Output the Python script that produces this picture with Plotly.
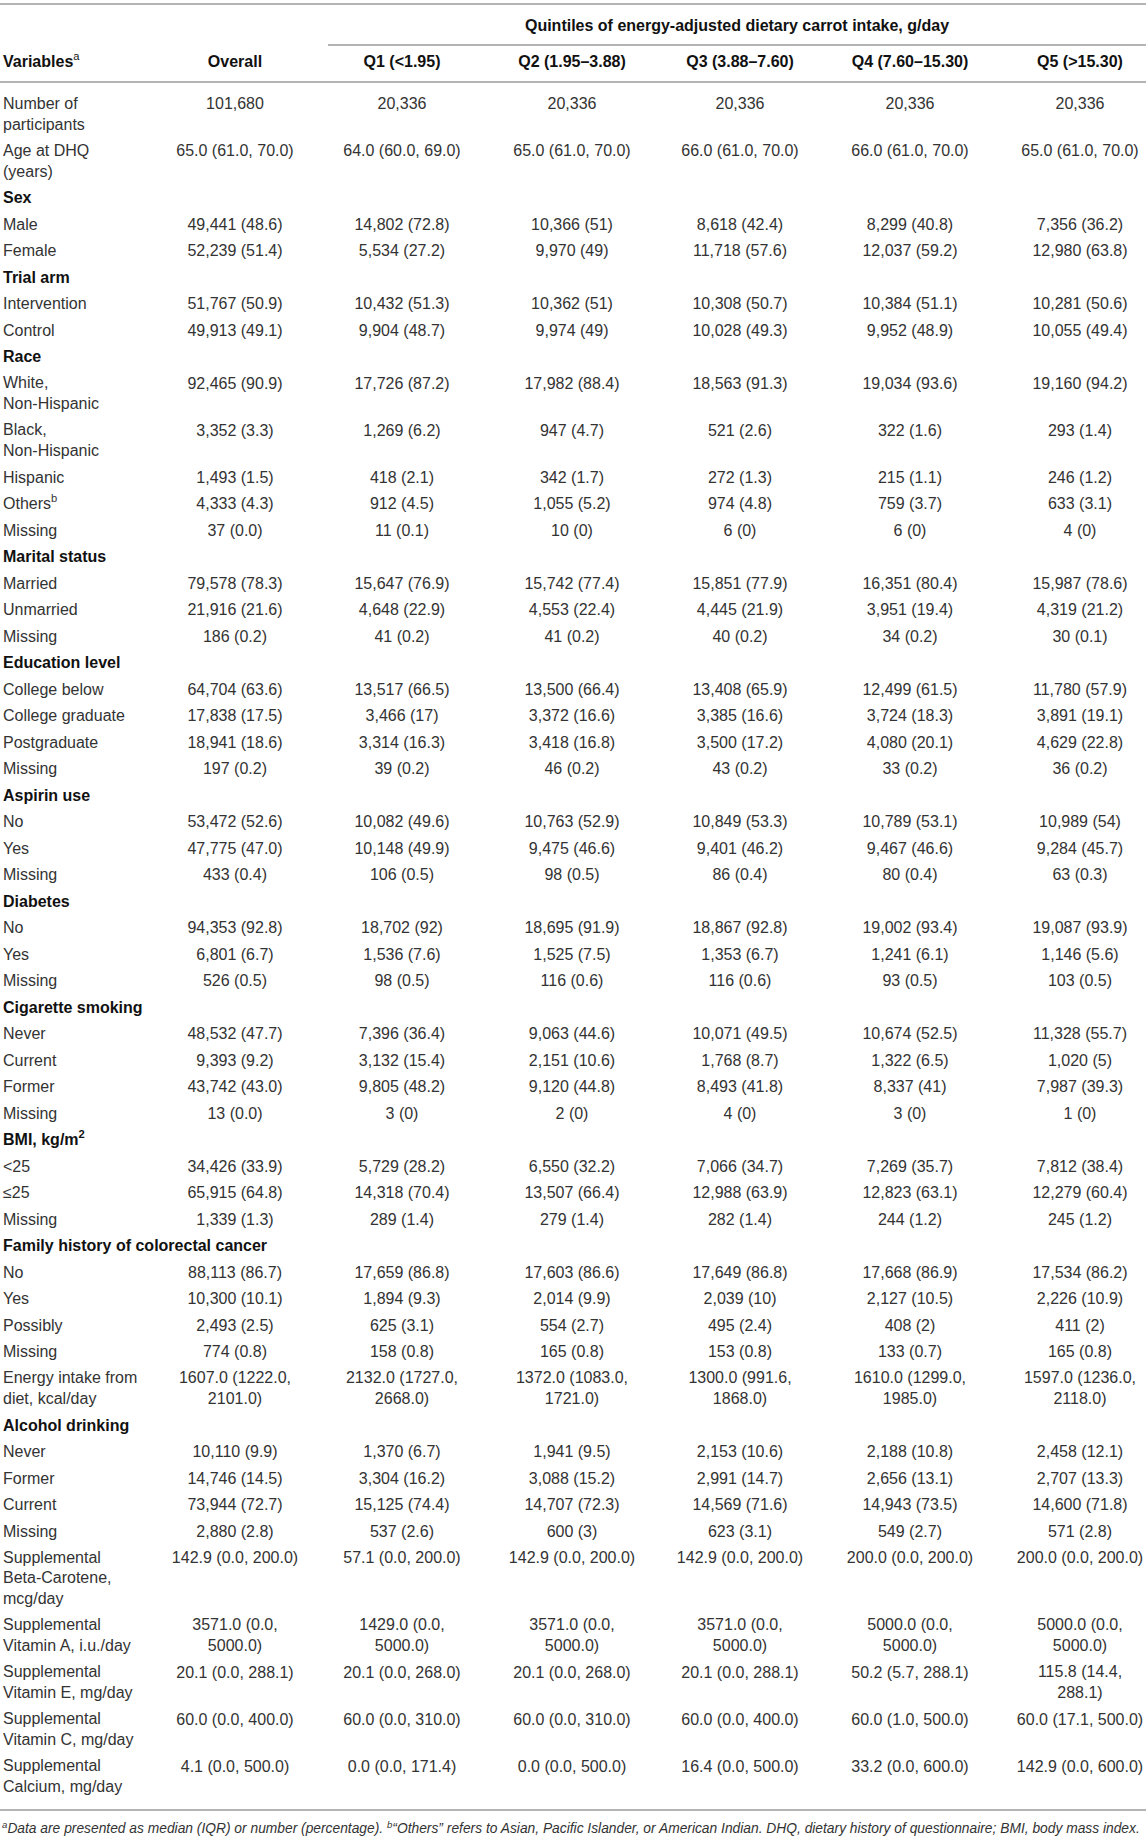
import plotly.graph_objects as go

# table content
variables = [
    "Number of<br>participants", "Age at DHQ<br>(years)",
    "<b>Sex</b>", "Male", "Female",
    "<b>Trial arm</b>", "Intervention", "Control",
    "<b>Race</b>", "White,<br>Non-Hispanic", "Black,<br>Non-Hispanic", "Hispanic",
    "Others<sup>b</sup>", "Missing",
    "<b>Marital status</b>", "Married", "Unmarried", "Missing",
    "<b>Education level</b>", "College below", "College graduate", "Postgraduate", "Missing",
    "<b>Aspirin use</b>", "No", "Yes", "Missing",
    "<b>Diabetes</b>", "No", "Yes", "Missing",
    "<b>Cigarette smoking</b>", "Never", "Current", "Former", "Missing",
    "<b>BMI, kg/m<sup>2</sup></b>", "&lt;25", "≤25", "Missing",
    "<b>Family history of colorectal cancer</b>", "No", "Yes", "Possibly", "Missing",
    "Energy intake from<br>diet, kcal/day",
    "<b>Alcohol drinking</b>", "Never", "Former", "Current", "Missing",
    "Supplemental<br>Beta-Carotene,<br>mcg/day",
    "Supplemental<br>Vitamin A, i.u./day",
    "Supplemental<br>Vitamin E, mg/day",
    "Supplemental<br>Vitamin C, mg/day",
    "Supplemental<br>Calcium, mg/day",
]

overall = [
    "101,680", "65.0 (61.0, 70.0)",
    "", "49,441 (48.6)", "52,239 (51.4)",
    "", "51,767 (50.9)", "49,913 (49.1)",
    "", "92,465 (90.9)", "3,352 (3.3)", "1,493 (1.5)", "4,333 (4.3)", "37 (0.0)",
    "", "79,578 (78.3)", "21,916 (21.6)", "186 (0.2)",
    "", "64,704 (63.6)", "17,838 (17.5)", "18,941 (18.6)", "197 (0.2)",
    "", "53,472 (52.6)", "47,775 (47.0)", "433 (0.4)",
    "", "94,353 (92.8)", "6,801 (6.7)", "526 (0.5)",
    "", "48,532 (47.7)", "9,393 (9.2)", "43,742 (43.0)", "13 (0.0)",
    "", "34,426 (33.9)", "65,915 (64.8)", "1,339 (1.3)",
    "", "88,113 (86.7)", "10,300 (10.1)", "2,493 (2.5)", "774 (0.8)",
    "1607.0 (1222.0,<br>2101.0)",
    "", "10,110 (9.9)", "14,746 (14.5)", "73,944 (72.7)", "2,880 (2.8)",
    "142.9 (0.0, 200.0)", "3571.0 (0.0,<br>5000.0)", "20.1 (0.0, 288.1)",
    "60.0 (0.0, 400.0)", "4.1 (0.0, 500.0)",
]

q1 = [
    "20,336", "64.0 (60.0, 69.0)",
    "", "14,802 (72.8)", "5,534 (27.2)",
    "", "10,432 (51.3)", "9,904 (48.7)",
    "", "17,726 (87.2)", "1,269 (6.2)", "418 (2.1)", "912 (4.5)", "11 (0.1)",
    "", "15,647 (76.9)", "4,648 (22.9)", "41 (0.2)",
    "", "13,517 (66.5)", "3,466 (17)", "3,314 (16.3)", "39 (0.2)",
    "", "10,082 (49.6)", "10,148 (49.9)", "106 (0.5)",
    "", "18,702 (92)", "1,536 (7.6)", "98 (0.5)",
    "", "7,396 (36.4)", "3,132 (15.4)", "9,805 (48.2)", "3 (0)",
    "", "5,729 (28.2)", "14,318 (70.4)", "289 (1.4)",
    "", "17,659 (86.8)", "1,894 (9.3)", "625 (3.1)", "158 (0.8)",
    "2132.0 (1727.0,<br>2668.0)",
    "", "1,370 (6.7)", "3,304 (16.2)", "15,125 (74.4)", "537 (2.6)",
    "57.1 (0.0, 200.0)", "1429.0 (0.0,<br>5000.0)", "20.1 (0.0, 268.0)",
    "60.0 (0.0, 310.0)", "0.0 (0.0, 171.4)",
]

q2 = [
    "20,336", "65.0 (61.0, 70.0)",
    "", "10,366 (51)", "9,970 (49)",
    "", "10,362 (51)", "9,974 (49)",
    "", "17,982 (88.4)", "947 (4.7)", "342 (1.7)", "1,055 (5.2)", "10 (0)",
    "", "15,742 (77.4)", "4,553 (22.4)", "41 (0.2)",
    "", "13,500 (66.4)", "3,372 (16.6)", "3,418 (16.8)", "46 (0.2)",
    "", "10,763 (52.9)", "9,475 (46.6)", "98 (0.5)",
    "", "18,695 (91.9)", "1,525 (7.5)", "116 (0.6)",
    "", "9,063 (44.6)", "2,151 (10.6)", "9,120 (44.8)", "2 (0)",
    "", "6,550 (32.2)", "13,507 (66.4)", "279 (1.4)",
    "", "17,603 (86.6)", "2,014 (9.9)", "554 (2.7)", "165 (0.8)",
    "1372.0 (1083.0,<br>1721.0)",
    "", "1,941 (9.5)", "3,088 (15.2)", "14,707 (72.3)", "600 (3)",
    "142.9 (0.0, 200.0)", "3571.0 (0.0,<br>5000.0)", "20.1 (0.0, 268.0)",
    "60.0 (0.0, 310.0)", "0.0 (0.0, 500.0)",
]

q3 = [
    "20,336", "66.0 (61.0, 70.0)",
    "", "8,618 (42.4)", "11,718 (57.6)",
    "", "10,308 (50.7)", "10,028 (49.3)",
    "", "18,563 (91.3)", "521 (2.6)", "272 (1.3)", "974 (4.8)", "6 (0)",
    "", "15,851 (77.9)", "4,445 (21.9)", "40 (0.2)",
    "", "13,408 (65.9)", "3,385 (16.6)", "3,500 (17.2)", "43 (0.2)",
    "", "10,849 (53.3)", "9,401 (46.2)", "86 (0.4)",
    "", "18,867 (92.8)", "1,353 (6.7)", "116 (0.6)",
    "", "10,071 (49.5)", "1,768 (8.7)", "8,493 (41.8)", "4 (0)",
    "", "7,066 (34.7)", "12,988 (63.9)", "282 (1.4)",
    "", "17,649 (86.8)", "2,039 (10)", "495 (2.4)", "153 (0.8)",
    "1300.0 (991.6,<br>1868.0)",
    "", "2,153 (10.6)", "2,991 (14.7)", "14,569 (71.6)", "623 (3.1)",
    "142.9 (0.0, 200.0)", "3571.0 (0.0,<br>5000.0)", "20.1 (0.0, 288.1)",
    "60.0 (0.0, 400.0)", "16.4 (0.0, 500.0)",
]

q4 = [
    "20,336", "66.0 (61.0, 70.0)",
    "", "8,299 (40.8)", "12,037 (59.2)",
    "", "10,384 (51.1)", "9,952 (48.9)",
    "", "19,034 (93.6)", "322 (1.6)", "215 (1.1)", "759 (3.7)", "6 (0)",
    "", "16,351 (80.4)", "3,951 (19.4)", "34 (0.2)",
    "", "12,499 (61.5)", "3,724 (18.3)", "4,080 (20.1)", "33 (0.2)",
    "", "10,789 (53.1)", "9,467 (46.6)", "80 (0.4)",
    "", "19,002 (93.4)", "1,241 (6.1)", "93 (0.5)",
    "", "10,674 (52.5)", "1,322 (6.5)", "8,337 (41)", "3 (0)",
    "", "7,269 (35.7)", "12,823 (63.1)", "244 (1.2)",
    "", "17,668 (86.9)", "2,127 (10.5)", "408 (2)", "133 (0.7)",
    "1610.0 (1299.0,<br>1985.0)",
    "", "2,188 (10.8)", "2,656 (13.1)", "14,943 (73.5)", "549 (2.7)",
    "200.0 (0.0, 200.0)", "5000.0 (0.0,<br>5000.0)", "50.2 (5.7, 288.1)",
    "60.0 (1.0, 500.0)", "33.2 (0.0, 600.0)",
]

q5 = [
    "20,336", "65.0 (61.0, 70.0)",
    "", "7,356 (36.2)", "12,980 (63.8)",
    "", "10,281 (50.6)", "10,055 (49.4)",
    "", "19,160 (94.2)", "293 (1.4)", "246 (1.2)", "633 (3.1)", "4 (0)",
    "", "15,987 (78.6)", "4,319 (21.2)", "30 (0.1)",
    "", "11,780 (57.9)", "3,891 (19.1)", "4,629 (22.8)", "36 (0.2)",
    "", "10,989 (54)", "9,284 (45.7)", "63 (0.3)",
    "", "19,087 (93.9)", "1,146 (5.6)", "103 (0.5)",
    "", "11,328 (55.7)", "1,020 (5)", "7,987 (39.3)", "1 (0)",
    "", "7,812 (38.4)", "12,279 (60.4)", "245 (1.2)",
    "", "17,534 (86.2)", "2,226 (10.9)", "411 (2)", "165 (0.8)",
    "1597.0 (1236.0,<br>2118.0)",
    "", "2,458 (12.1)", "2,707 (13.3)", "14,600 (71.8)", "571 (2.8)",
    "200.0 (0.0, 200.0)", "5000.0 (0.0,<br>5000.0)", "115.8 (14.4,<br>288.1)",
    "60.0 (17.1, 500.0)", "142.9 (0.0, 600.0)",
]

col_headers = ["Overall", "Q1 (&lt;1.95)", "Q2 (1.95–3.88)", "Q3 (3.88–7.60)",
               "Q4 (7.60–15.30)", "Q5 (&gt;15.30)"]
spanner = "Quintiles of energy-adjusted dietary carrot intake, g/day"
footnote = ("<i><sup>a</sup>Data are presented as median (IQR) or number (percentage). "
            "<sup>b</sup>“Others” refers to Asian, Pacific Islander, or American Indian. "
            "DHQ, dietary history of questionnaire; BMI, body mass index.</i>")

W, H = 1146, 1842
FONT = "Liberation Sans, Arial, Helvetica, sans-serif"
TXT = "#333333"
RULE = "#b4b4b4"
col_x = [235, 402, 572, 740, 910, 1080]
label_x = 3
first_y = 105
base_h = 26.5
line_h = 20.5


def nlines(s):
    return s.count("<br>") + 1


# row positions: top line of each row
columns = [overall, q1, q2, q3, q4, q5]
row_top = []
y = first_y
for i, lab in enumerate(variables):
    row_top.append(y)
    n = max([nlines(lab)] + [nlines(c[i]) for c in columns])
    y += base_h + (n - 1) * line_h


def cell_y(texts):
    return [row_top[i] + (nlines(t) - 1) * line_h / 2 for i, t in enumerate(texts)]


fig = go.Figure()

# first column
fig.add_trace(go.Scatter(
    x=[label_x] * len(variables), y=cell_y(variables), text=variables,
    mode="text", textposition="middle right",
    textfont=dict(family=FONT, size=16,
                  color=["#111111" if v.startswith("<b>") else TXT for v in variables]),
    hoverinfo="skip", showlegend=False))

# value columns (group rows have no values)
for cx, vals in zip(col_x, columns):
    keep = [i for i, v in enumerate(vals) if v]
    ys = cell_y(vals)
    fig.add_trace(go.Scatter(
        x=[cx] * len(keep), y=[ys[i] for i in keep], text=[vals[i] for i in keep],
        mode="text", textposition="middle center",
        textfont=dict(family=FONT, size=16, color=TXT),
        hoverinfo="skip", showlegend=False))

# header
fig.add_trace(go.Scatter(
    x=[label_x], y=[63], text=["<b>Variables</b><sup>a</sup>"],
    mode="text", textposition="middle right",
    textfont=dict(family=FONT, size=16, color="#111111"),
    hoverinfo="skip", showlegend=False))
fig.add_trace(go.Scatter(
    x=col_x, y=[63] * len(col_x), text=["<b>%s</b>" % h for h in col_headers],
    mode="text", textposition="middle center",
    textfont=dict(family=FONT, size=16, color="#111111"),
    hoverinfo="skip", showlegend=False))
fig.add_trace(go.Scatter(
    x=[(col_x[1] + col_x[5]) / 2 - 4], y=[27], text=["<b>%s</b>" % spanner],
    mode="text", textposition="middle center",
    textfont=dict(family=FONT, size=16, color="#111111"),
    hoverinfo="skip", showlegend=False))

# footnote
fig.add_trace(go.Scatter(
    x=[label_x - 1], y=[1830], text=[footnote],
    mode="text", textposition="middle right",
    textfont=dict(family=FONT, size=13.8, color=TXT),
    hoverinfo="skip", showlegend=False))

# horizontal rules
rules = [(0, W, 4), (328, W, 45), (0, W, 82), (0, W, 1810)]
for x0, x1, yy in rules:
    fig.add_shape(type="line", x0=x0, x1=x1, y0=yy, y1=yy, xref="x", yref="y",
                  line=dict(color=RULE, width=2))

fig.update_layout(
    width=W, height=H,
    margin=dict(l=0, r=0, t=0, b=0),
    paper_bgcolor="white", plot_bgcolor="white",
    xaxis=dict(range=[0, W], visible=False, fixedrange=True),
    yaxis=dict(range=[H, 0], visible=False, fixedrange=True),
)

# drop the default page margin so the 1146x1842 figure fits the window
fig.write_html("out.html", config={"displayModeBar": False},
               post_script="document.body.style.margin='0';document.body.style.overflow='hidden';")
